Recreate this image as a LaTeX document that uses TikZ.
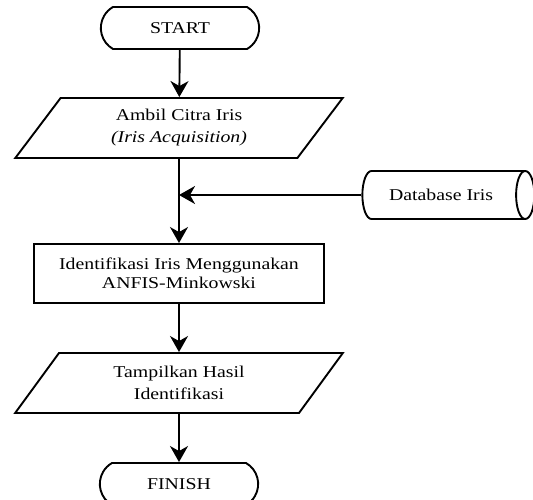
\documentclass[tikz,border=0pt]{standalone}
\usepackage{fontspec}
\setmainfont{Liberation Serif}[FakeStretch=1.2]
\usetikzlibrary{shapes.geometric,shapes.misc,arrows.meta}

\begin{document}
\begin{tikzpicture}[x=1pt,y=-1pt,line width=1.9pt,
  every node/.style={font=\fontsize{16.5}{22}\selectfont},
  term/.style={rounded rectangle,rounded rectangle arc length=120,draw,
    minimum width=165pt,minimum height=42pt},
  io/.style={trapezium,trapezium left angle=58,trapezium right angle=122,
    trapezium stretches=true,draw,minimum width=328pt,minimum height=60pt,align=center},
  proc/.style={rectangle,draw,minimum width=290pt,minimum height=59pt,align=center,
    font=\fontsize{16.5}{19}\selectfont},
  store/.style={cylinder,draw,shape aspect=1,minimum width=48pt,minimum height=172pt},
  flow/.style={-{Stealth[length=16pt,width=18pt,inset=5pt]}}]
\useasboundingbox (0,0) rectangle (533,500);

\node (start) at (180,28) [term] {START};
\node (acq) at (179,128) [io] {Ambil Citra Iris\\\textit{(Iris Acquisition)}};
\node (db) at (441,195) [store] {Database Iris};
\node (ident) at (179,273.5) [proc] {Identifikasi Iris Menggunakan\\ANFIS-Minkowski};
\node (show) at (179,383) [io] {Tampilkan Hasil\\Identifikasi};
\node (finish) at (179,484) [term] {FINISH};

\draw[flow] (start) -- (acq);
\draw[flow] (acq) -- (ident);
\draw[flow] (db) -- (db -| acq.south);
\draw[flow] (ident) -- (show);
\draw[flow] (show) -- (finish);

\end{tikzpicture}
\end{document}
